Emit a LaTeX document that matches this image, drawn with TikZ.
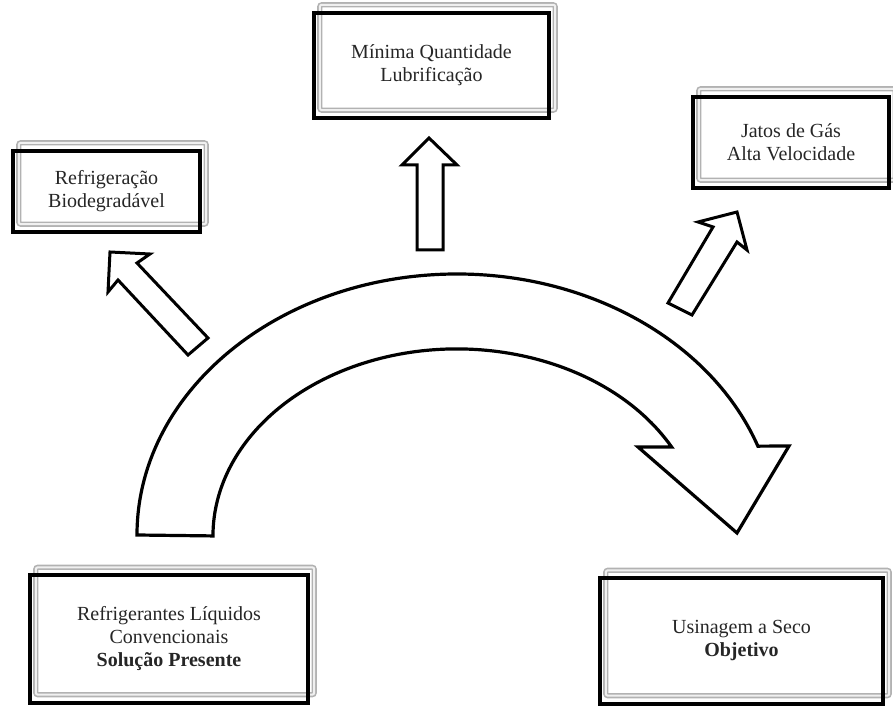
\documentclass[tikz,border=0pt]{standalone}
\usepackage{fontspec}
\setmainfont{Liberation Serif}
\begin{document}
\begin{tikzpicture}[x=1pt,y=1pt,
  boxfill/.style={fill=white, draw=none, inner sep=0pt, align=center,
    font=\fontsize{20}{23}\selectfont, text=black!85},
  boxframe/.style={draw=gray!60, line width=1.6pt, double=gray!12,
    double distance=2pt, rounded corners=2pt},
  boxborder/.style={draw=black, line width=4pt},
  hollowarrow/.style={draw=black, fill=white, line width=3pt, line join=miter},
  bigarrow/.style={draw=black, fill=white, line width=3.2pt, line join=miter}
]
\useasboundingbox (0,0) rectangle (893,706);

% framed text boxes: white body, grey bevel frame, black border on top
\node[boxfill, minimum width=187, minimum height=81] (bio) at (106.5,514.5)
  {Refrigeração\\Biodegradável};
\node[boxfill, minimum width=235, minimum height=105] (mql) at (431.5,640.5)
  {Mínima Quantidade\\Lubrificação};
\node[boxfill, minimum width=196, minimum height=91] (gas) at (791,563.5)
  {Jatos de Gás\\Alta Velocidade};
\node[boxfill, minimum width=278, minimum height=127] (liq) at (169,67)
  {Refrigerantes Líquidos\\Convencionais\\\textbf{Solução Presente}};
\node[boxfill, minimum width=283, minimum height=125] (seco) at (741.5,65)
  {Usinagem a Seco\\\textbf{Objetivo}};

\foreach \b in {bio,mql,gas,liq,seco}{
  \draw[boxframe] ([shift={(6,8)}]\b.south west) rectangle ([shift={(6,8)}]\b.north east);
  \draw[boxborder] (\b.south west) rectangle (\b.north east);
}

% curved main arrow from present solution to the goal
\draw[bigarrow] (137,171)
  arc[start angle=180, end angle=19.9, x radius=320, y radius=261]
  -- (789,260) -- (737,173) -- (638,259) -- (671.6,259)
  arc[start angle=28.4, end angle=180, x radius=244, y radius=187]
  -- cycle;

% hollow arrows toward the alternative techniques
\draw[hollowarrow] (110,454) -- (150,452) -- (137,443) -- (208,368)
  -- (188,351) -- (118,426) -- (108,414) -- cycle;
\draw[hollowarrow] (429,568) -- (457,541) -- (443,541) -- (443,456)
  -- (417,456) -- (417,541) -- (402,541) -- cycle;
\draw[hollowarrow] (737,494) -- (747,456) -- (737,464) -- (692,391)
  -- (668,403) -- (713,479) -- (698,484) -- cycle;
\end{tikzpicture}
\end{document}
